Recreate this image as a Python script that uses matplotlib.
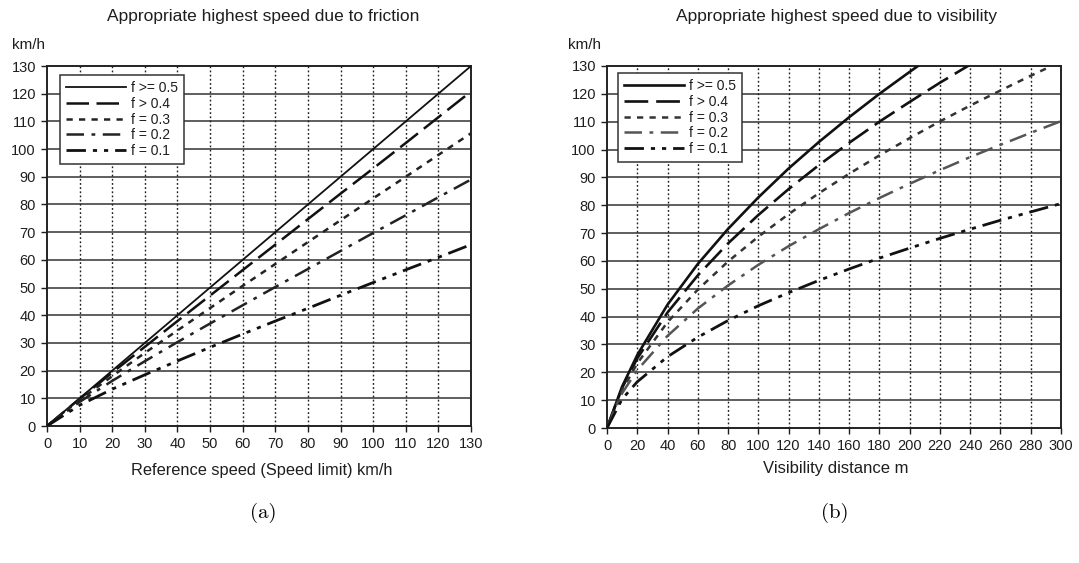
import matplotlib
matplotlib.use('Agg')
import matplotlib.pyplot as plt

plt.rcParams['font.family'] = ['Liberation Sans', 'DejaVu Sans']

# data
labels = ['f >= 0.5', 'f > 0.4', 'f = 0.3', 'f = 0.2', 'f = 0.1']

# (a) friction: reference speed km/h -> appropriate speed km/h
ref_speed = [0, 10, 20, 30, 40, 50, 60, 70, 80, 90, 100, 110, 120, 130]
fric_05 = [0, 10, 20, 30, 40, 50, 60, 70, 80, 90, 100, 110, 120, 130]
fric_04 = [0, 9.8, 19.3, 28.6, 37.9, 47.1, 56.3, 65.5, 74.7, 83.9, 93.0, 102.2, 111.5, 120.8]
fric_03 = [0, 9.4, 18.0, 26.4, 34.5, 42.6, 50.6, 58.5, 66.4, 74.3, 82.2, 90.0, 97.9, 105.7]
fric_02 = [0, 8.7, 16.3, 23.4, 30.3, 37.0, 43.6, 50.2, 56.7, 63.2, 69.7, 76.1, 82.6, 89.0]
fric_01 = [0, 7.5, 13.3, 18.5, 23.5, 28.4, 33.2, 37.9, 42.5, 47.2, 51.8, 56.4, 60.9, 65.5]

# (b) visibility: visibility distance m -> appropriate speed km/h
vis_dist = [0, 10, 20, 40, 60, 80, 100, 120, 140, 160, 180, 200, 220, 240, 260, 280, 300]
vis_05 = [0, 14.9, 26.2, 44.3, 58.9, 71.5, 82.8, 93.2, 102.7, 111.6, 120.0, 127.9, 135.6, 142.8, 149.7, 156.3, 162.6]
vis_04 = [0, 14.4, 25.0, 41.5, 54.8, 66.3, 76.5, 85.8, 94.4, 102.4, 110.0, 117.1, 124.0, 130.5, 136.7, 142.6, 148.3]
vis_03 = [0, 13.6, 23.2, 38.0, 49.7, 59.8, 68.7, 76.8, 84.3, 91.3, 97.9, 104.1, 110.1, 115.8, 121.2, 126.5, 131.6]
vis_02 = [0, 12.5, 20.8, 33.1, 42.9, 51.2, 58.6, 65.3, 71.4, 77.2, 82.6, 87.7, 92.6, 97.3, 101.7, 106.0, 110.2]
vis_01 = [0, 10.4, 16.6, 25.6, 32.6, 38.6, 43.9, 48.6, 53.0, 57.1, 61.0, 64.6, 68.1, 71.4, 74.6, 77.6, 80.6]

styles_a = [
    dict(linestyle='-', linewidth=1.3, color='#111111'),
    dict(linestyle=(0, (9, 3)), linewidth=1.8, color='#111111'),
    dict(linestyle=(0, (2.5, 2.5)), linewidth=1.8, color='#222222'),
    dict(linestyle=(0, (7, 3, 1.5, 3)), linewidth=1.8, color='#222222'),
    dict(linestyle=(0, (7, 2.5, 1.5, 2.5, 1.5, 2.5)), linewidth=2.0, color='#111111'),
]
styles_b = [
    dict(linestyle='-', linewidth=1.9, color='#111111'),
    dict(linestyle=(0, (9, 3)), linewidth=1.9, color='#111111'),
    dict(linestyle=(0, (2.5, 2.5)), linewidth=1.8, color='#333333'),
    dict(linestyle=(0, (7, 3, 1.5, 3)), linewidth=1.8, color='#555555'),
    dict(linestyle=(0, (7, 2.5, 1.5, 2.5, 1.5, 2.5)), linewidth=2.0, color='#111111'),
]

W, H = 1079, 563
fig = plt.figure(figsize=(W / 100, H / 100), dpi=100)
ax1 = fig.add_axes([47 / W, 1 - 426 / H, 424 / W, 360 / H])
ax2 = fig.add_axes([607 / W, 1 - 428 / H, 454 / W, 362 / H])
TXT = '#1e1e1e'


def style_axes(ax, xmax, xstep):
    ax.set_xlim(0, xmax)
    ax.set_ylim(0, 130)
    ax.set_xticks(range(0, xmax + 1, xstep))
    ax.set_yticks(range(0, 131, 10))
    for y in range(10, 130, 10):
        ax.axhline(y, color='#333333', linewidth=1.1, zorder=1)
    for x in range(xstep, xmax, xstep):
        ax.axvline(x, color='#1e1e1e', linewidth=1.0, linestyle=(0, (1.3, 1.7)), zorder=1)
    for s in ax.spines.values():
        s.set_linewidth(1.4)
        s.set_color('#222222')
    ax.tick_params(direction='out', length=4, width=1.0, labelsize=10.5,
                   colors=TXT, pad=4)


style_axes(ax1, 130, 10)
style_axes(ax2, 300, 20)

fig.text(263 / W, 1 - 16 / H, 'Appropriate highest speed due to friction',
         ha='center', va='center', fontsize=12.5, color=TXT)
fig.text(837 / W, 1 - 16 / H, 'Appropriate highest speed due to visibility',
         ha='center', va='center', fontsize=12.5, color=TXT)
fig.text(262 / W, 1 - 470 / H, 'Reference speed (Speed limit) km/h',
         ha='center', va='center', fontsize=11.8, color=TXT)
fig.text(836 / W, 1 - 469 / H, 'Visibility distance m',
         ha='center', va='center', fontsize=12, color=TXT)
fig.text(12 / W, 1 - 45 / H, 'km/h', ha='left', va='center', fontsize=11, color=TXT)
fig.text(568 / W, 1 - 45 / H, 'km/h', ha='left', va='center', fontsize=11, color=TXT)

for ys, lab, st in zip([fric_05, fric_04, fric_03, fric_02, fric_01], labels, styles_a):
    ax1.plot(ref_speed, ys, label=lab, zorder=3, **st)
for ys, lab, st in zip([vis_05, vis_04, vis_03, vis_02, vis_01], labels, styles_b):
    ax2.plot(vis_dist, ys, label=lab, zorder=3, **st)

for ax, anchor in ((ax1, (13 / 424, 1 - 9 / 360)), (ax2, (11 / 454, 1 - 7 / 362))):
    leg = ax.legend(loc='upper left', bbox_to_anchor=anchor, fontsize=10,
                    handlelength=4.3, handletextpad=0.35, labelspacing=0.12,
                    borderpad=0.45, borderaxespad=0, fancybox=False, framealpha=1)
    leg.get_frame().set_edgecolor('#333333')
    leg.get_frame().set_linewidth(1.1)
    for t in leg.get_texts():
        t.set_color(TXT)

fig.text(263 / W, 1 - 513 / H, '(a)', ha='center', va='center',
         fontsize=15, family='cmr10')
fig.text(835 / W, 1 - 513 / H, '(b)', ha='center', va='center',
         fontsize=15, family='cmr10')

fig.savefig('out.png', dpi=100)
